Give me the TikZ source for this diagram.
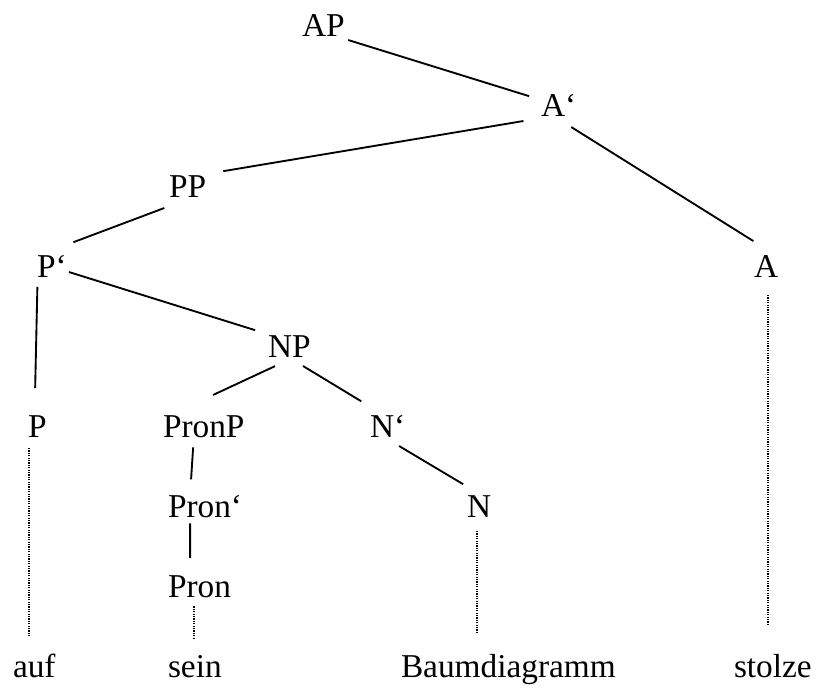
\documentclass[tikz,border=0pt]{standalone}
\usepackage{fontspec}
\setmainfont{Liberation Serif}
\begin{document}
\begin{tikzpicture}[x=0.75pt,y=-0.75pt,
  lbl/.style={anchor=base west,inner sep=0pt,outer sep=0pt,font=\fontsize{25}{30}\selectfont},
  edge/.style={draw=black,line width=1.4pt},
  leaf/.style={draw=black,line width=1.1pt,dash pattern=on 0.9pt off 0.9pt}]
\useasboundingbox (0,0) rectangle (816,688);
% nodes
\node[lbl] (AP)    at (302,37)  {AP};
\node[lbl] (Abar)  at (541,117) {A‘};
\node[lbl] (PP)    at (169,197) {PP};
\node[lbl] (Pbar)  at (37,277)  {P‘};
\node[lbl] (A)     at (754,277) {A};
\node[lbl] (NP)    at (268,357) {NP};
\node[lbl] (P)     at (28,437)  {P};
\node[lbl] (PronP) at (163,437) {PronP};
\node[lbl] (Nbar)  at (370,437) {N‘};
\node[lbl] (Pronbar) at (168,517) {Pron‘};
\node[lbl] (N)     at (467,517) {N};
\node[lbl] (Pron)  at (168,597) {Pron};
\node[lbl] (auf)   at (13,677)  {auf};
\node[lbl] (sein)  at (168,677) {sein};
\node[lbl] (Baum)  at (401,677) {Baumdiagramm};
\node[lbl] (stolze) at (734,677) {stolze};
% solid branches
\draw[edge,shorten <=7.6pt,shorten >=9.4pt] (AP.-36.3) -- (Abar.161);
\draw[edge,shorten <=18.3pt,shorten >=18.3pt] (Abar.-135.9) -- (PP.43.7);
\draw[edge,shorten <=14.2pt,shorten >=19.7pt] (Abar.-107.7) -- (A.49.8);
\draw[edge,shorten <=23.5pt,shorten >=26.8pt] (PP.-61.8) -- (Pbar.137.6);
\draw[edge,shorten <=1.9pt,shorten >=12.6pt] (Pbar.-20.4) -- (NP.149);
\draw[edge,shorten <=7.5pt,shorten >=20.3pt] (Pbar.-142.4) -- (P.104.3);
\draw[edge,shorten <=16.2pt,shorten >=35.9pt] (NP.-64.3) -- (PronP.162.6);
\draw[edge,shorten <=13.05pt,shorten >=19.6pt] (NP.-96.2) -- (Nbar.110.5);
\draw[edge,shorten <=7.5pt,shorten >=11.6pt] (PronP.-132.6) -- (Pronbar.143.1);
\draw[edge,shorten <=4.5pt,shorten >=12.75pt] (Pronbar.-143.1) -- (Pron.130.8);
\draw[edge,shorten <=13.2pt,shorten >=16.1pt] (Nbar.-108.4) -- (N.77.2);
% dotted lexical lines
\draw[leaf,shorten <=8.25pt,shorten >=12.2pt] (P.-127) -- (P.-127 |- auf.north);
\draw[leaf,shorten <=6.75pt,shorten >=11.4pt] (Pron.-116.6) -- (Pron.-116.6 |- sein.north);
\draw[leaf,shorten <=10.5pt,shorten >=15.9pt] (N.-100.3) -- (N.-100.3 |- Baum.north);
\draw[leaf,shorten <=13.5pt,shorten >=21.9pt] (A.-79.7) -- (A.-79.7 |- stolze.north);
\end{tikzpicture}
\end{document}
